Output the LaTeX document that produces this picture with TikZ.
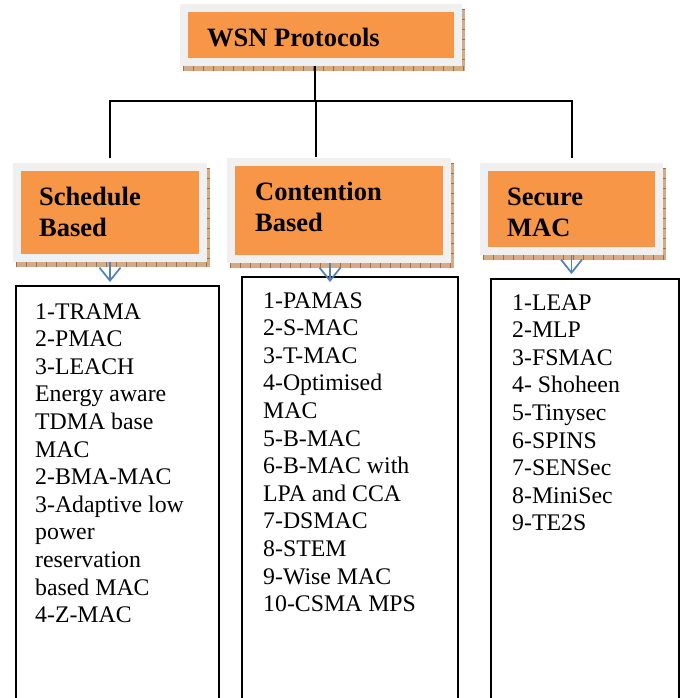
\documentclass[tikz,border=0pt]{standalone}
\usepackage{fontspec}
\setmainfont{Liberation Serif}
\usetikzlibrary{arrows.meta}

\definecolor{hdrorange}{HTML}{F79646}
\definecolor{framegray}{HTML}{F0F0F0}
\definecolor{shadowtan}{HTML}{D2AC88}
\definecolor{shadowtick}{HTML}{A86C3E}
\definecolor{arrowblue}{HTML}{4F81BD}

% left-aligned stack whose baseline is the first line
\newcommand\linestack[1]{\begin{tabular}[t]{@{}l@{}}#1\end{tabular}}

% hatched drop shadow below and right of a box given by its outer corners
\newcommand\dropstrip[4]{%
  \fill[shadowtan] (#1+3,#4) rectangle (#3+3,#4+5);
  \fill[shadowtan] (#3,#2+5) rectangle (#3+3,#4+5);
  \draw[shadowtick, line width=5pt, dash pattern=on 1pt off 9pt] (#1+3,#4+2.5) -- (#3+3,#4+2.5);
  \draw[shadowtick, line width=3pt, dash pattern=on 1pt off 9pt] (#3+1.5,#2+5) -- (#3+1.5,#4);
}

\tikzset{
  hdrbox/.style={draw=framegray, line width=8pt, fill=hdrorange, inner sep=0pt, outer sep=0pt, anchor=north west},
  hdrtext/.style={anchor=base west, inner sep=0pt, font=\fontsize{26.5pt}{31pt}\selectfont\bfseries},
  listbox/.style={draw=black, line width=2pt, inner sep=0pt, outer sep=0pt, anchor=north west},
  listtext/.style={anchor=base west, inner sep=0pt, font=\fontsize{23.8pt}{27.6pt}\selectfont},
  tree/.style={draw=black, line width=2pt},
  flow/.style={draw=arrowblue, line width=1.7pt, -{Straight Barb[length=13pt,width=21pt]}},
}

\begin{document}
\begin{tikzpicture}[x=1pt,y=-1pt]
  \useasboundingbox (0,0) rectangle (684,698);
  \fill[white] (0,0) rectangle (684,698);
  \clip (0,0) rectangle (684,698);

  % shadows behind the heading boxes
  \dropstrip{180}{4}{462}{66}
  \dropstrip{13}{163}{207}{262}
  \dropstrip{227}{158}{451}{263}
  \dropstrip{480}{163}{663}{255}

  % heading boxes
  \node[hdrbox, minimum width=274pt, minimum height=54pt] (wsn) at (184,8) {};
  \node[hdrbox, minimum width=186pt, minimum height=91pt] (sched) at (17,167) {};
  \node[hdrbox, minimum width=216pt, minimum height=97pt] (cont) at (231,162) {};
  \node[hdrbox, minimum width=175pt, minimum height=84pt] (sec) at (484,167) {};

  \node[hdrtext] (wsnlabel) at (207,47) {WSN Protocols};
  \node[hdrtext] (schedlabel) at (39,205) {\linestack{Schedule\\Based}};
  \node[hdrtext] (contlabel) at (255,200) {\linestack{Contention\\Based}};
  \node[hdrtext] (seclabel) at (507,205) {\linestack{Secure\\MAC}};

  % list boxes, running past the lower edge
  \node[listbox, minimum width=203pt, minimum height=440pt] (schedlist) at (16,286) {};
  \node[listbox, minimum width=216pt, minimum height=450pt] (contlist) at (242,277) {};
  \node[listbox, minimum width=188pt, minimum height=450pt] (seclist) at (491,279) {};

  \node[listtext] (schedtext) at (35,319) {\linestack{1-TRAMA\\2-PMAC\\3-LEACH\\Energy aware\\TDMA base\\MAC\\2-BMA-MAC\\3-Adaptive low\\power\\reservation\\based MAC\\4-Z-MAC}};
  \node[listtext] (conttext) at (263,308) {\linestack{1-PAMAS\\2-S-MAC\\3-T-MAC\\4-Optimised\\MAC\\5-B-MAC\\6-B-MAC with\\LPA and CCA\\7-DSMAC\\8-STEM\\9-Wise MAC\\10-CSMA MPS}};
  \node[listtext] (sectext) at (512,310) {\linestack{1-LEAP\\2-MLP\\3-FSMAC\\4- Shoheen\\5-Tinysec\\6-SPINS\\7-SENSec\\8-MiniSec\\9-TE2S}};

  % tree connectors
  \coordinate (bus) at (315,101);
  \draw[tree, shorten <=4pt] ([xshift=-6pt]wsn.south) -- (bus);
  \draw[tree] (bus) -| ([yshift=9pt]sched.north);
  \draw[tree] (bus) -| ([yshift=9pt]sec.north);
  \draw[tree, shorten >=5pt] ([xshift=1pt]bus) -- ([xshift=1pt]bus |- cont.north);

  % arrows into the lists
  \draw[flow, shorten <=4pt, shorten >=4pt] (sched.south) -- (sched.south |- schedlist.north);
  \draw[flow, shorten <=4pt, shorten >=-5pt] ([xshift=-9pt]cont.south) -- ([xshift=-9pt]cont.south |- contlist.north);
  \draw[flow, shorten <=4pt, shorten >=5pt] (sec.south) -- (sec.south |- seclist.north);
\end{tikzpicture}
\end{document}
